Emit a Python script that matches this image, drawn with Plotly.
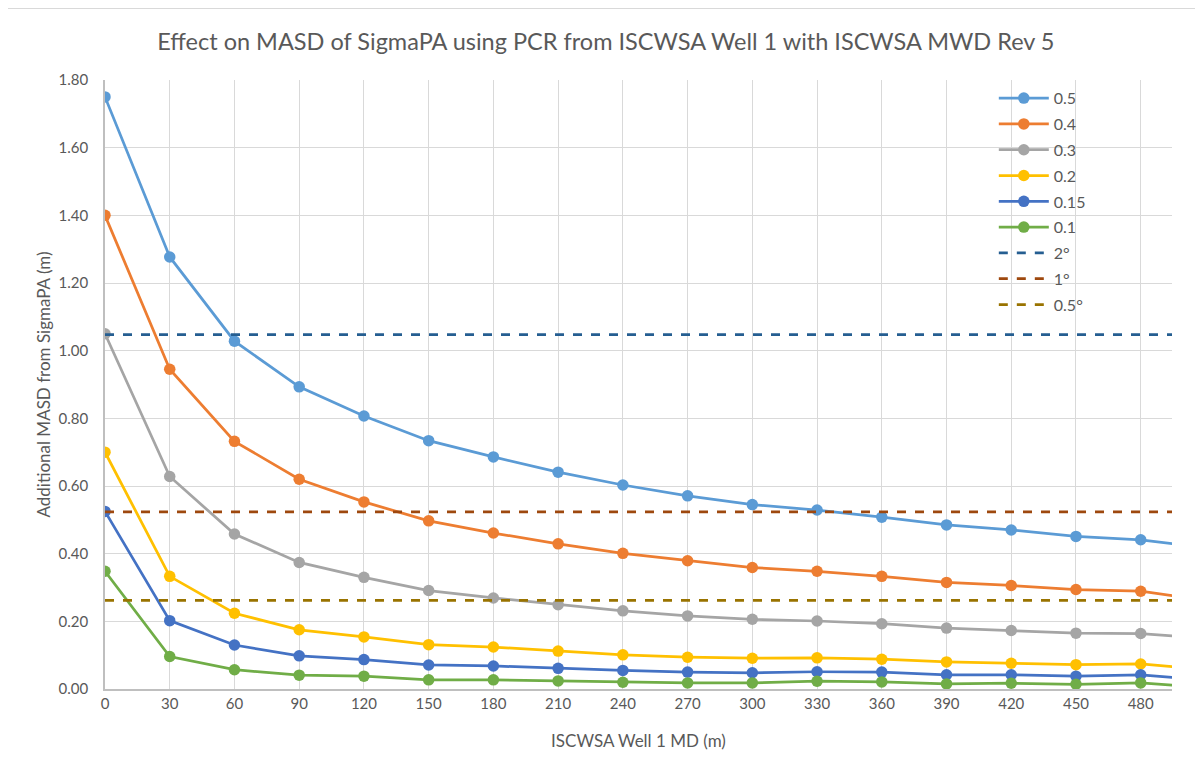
import plotly.graph_objects as go

md = [0, 30, 60, 90, 120, 150, 180, 210, 240, 270, 300, 330, 360, 390, 420, 450, 480, 510]

s05 = [1.75, 1.277, 1.028, 0.893, 0.807, 0.734, 0.686, 0.641, 0.603, 0.571, 0.545, 0.529, 0.508, 0.485, 0.470, 0.451, 0.441, 0.418]
s04 = [1.40, 0.945, 0.732, 0.620, 0.553, 0.497, 0.461, 0.429, 0.401, 0.379, 0.359, 0.348, 0.333, 0.315, 0.306, 0.294, 0.289, 0.262]
s03 = [1.05, 0.628, 0.458, 0.374, 0.330, 0.291, 0.269, 0.249, 0.231, 0.216, 0.206, 0.201, 0.193, 0.180, 0.173, 0.165, 0.164, 0.150]
s02 = [0.70, 0.333, 0.224, 0.175, 0.154, 0.131, 0.124, 0.112, 0.101, 0.094, 0.091, 0.092, 0.088, 0.080, 0.076, 0.072, 0.074, 0.058]
s015 = [0.525, 0.202, 0.130, 0.098, 0.087, 0.071, 0.068, 0.061, 0.055, 0.050, 0.048, 0.051, 0.050, 0.042, 0.042, 0.038, 0.042, 0.026]
s01 = [0.348, 0.096, 0.057, 0.041, 0.038, 0.027, 0.027, 0.024, 0.020, 0.018, 0.018, 0.023, 0.021, 0.015, 0.017, 0.014, 0.018, 0.004]

ref_x = [0, 510]
ref_2deg = [1.0472, 1.0472]
ref_1deg = [0.5236, 0.5236]
ref_05deg = [0.2618, 0.2618]

series = [
    ("0.5", s05, "#5B9BD5"),
    ("0.4", s04, "#ED7D31"),
    ("0.3", s03, "#A5A5A5"),
    ("0.2", s02, "#FFC000"),
    ("0.15", s015, "#4472C4"),
    ("0.1", s01, "#70AD47"),
]
refs = [
    ("2°", ref_2deg, "#255E91"),
    ("1°", ref_1deg, "#9E480E"),
    ("0.5°", ref_05deg, "#997300"),
]

FONT = "Lato"
TXT = "#595959"

fig = go.Figure()
for name, ys, col in series:
    fig.add_trace(go.Scatter(
        x=md, y=ys, name=name, mode="lines+markers",
        line=dict(color=col, width=2.75),
        marker=dict(color=col, size=11.5),
        legendgroup=name,
    ))
for name, ys, col in refs:
    fig.add_trace(go.Scatter(
        x=ref_x, y=ys, name=name, mode="lines",
        line=dict(color=col, width=2.75, dash="dash"),
        legendgroup=name,
    ))

fig.update_layout(
    width=1203, height=769,
    margin=dict(l=97, r=39, t=72, b=88),
    paper_bgcolor="white", plot_bgcolor="white",
    font=dict(family=FONT, color=TXT, size=15),
    title=dict(text="Effect on MASD of SigmaPA using PCR from ISCWSA Well 1 with ISCWSA MWD Rev 5",
               x=0.497, xanchor="center", y=0.956, yanchor="middle",
               font=dict(size=23.5, color=TXT, family=FONT)),
    showlegend=True,
    legend=dict(x=0.833, y=0.998, xanchor="left", yanchor="top",
                bgcolor="rgba(255,255,255,0)", font=dict(size=16, color=TXT),
                tracegroupgap=2, itemwidth=50),
    xaxis=dict(range=[0, 494.5], tickmode="array", tickvals=md[:-1],
               ticktext=[str(v) for v in md[:-1]],
               showgrid=True, gridcolor="#D9D9D9", gridwidth=1,
               showline=True, linecolor="#BFBFBF", linewidth=1.5,
               zeroline=False, ticks="", tickfont=dict(size=15, color=TXT),
               title=dict(text="ISCWSA Well 1 MD (m)", font=dict(size=17, color=TXT), standoff=24)),
    yaxis=dict(range=[0, 1.8], dtick=0.2, tickformat=".2f",
               showgrid=True, gridcolor="#D9D9D9", gridwidth=1,
               showline=True, linecolor="#BFBFBF", linewidth=1.5,
               zeroline=False, ticks="", ticklabelstandoff=12, tickfont=dict(size=15, color=TXT),
               title=dict(text="Additional MASD from SigmaPA (m)", font=dict(size=17, color=TXT), standoff=4)),
)

# outer chart-area border (top and left edges visible)
fig.add_shape(type="line", xref="paper", yref="paper",
              x0=(6 - 105) / 1067, x1=(1210 - 105) / 1067,
              y0=(689 - 8) / 609, y1=(689 - 8) / 609,
              line=dict(color="#D9D9D9", width=2))
fig.add_shape(type="line", xref="paper", yref="paper",
              x0=(7 - 105) / 1067, x1=(7 - 105) / 1067,
              y0=(689 - 8) / 609, y1=(689 - 780) / 609,
              line=dict(color="#D9D9D9", width=2))

fig.write_html("out.html")
